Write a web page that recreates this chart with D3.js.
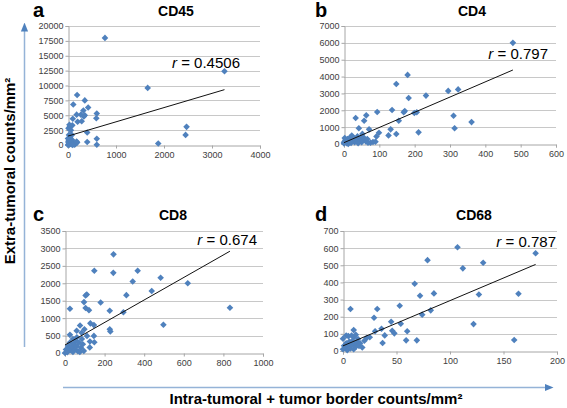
<!DOCTYPE html>
<html><head><meta charset="utf-8">
<script src="https://cdn.jsdelivr.net/npm/d3@7"></script>
<style>body{margin:0;background:#fff}svg{display:block}</style>
</head><body>
<svg id="c" width="567" height="408"></svg>
<script>
// ---------- DATA ----------
const panelLetters = ["a","b","c","d"];
const panelTitles = ["CD45","CD4","CD8","CD68"];
const rLabels = ["0.4506","0.797","0.674","0.787"];

const cd45X = [770,1660,1880,3260,2450,2470,190,110,350,420,320,350,330,270,180,600,590,100,200,285,40,90,10,400,400,600,600,190,80,20,0,
  0,10,20,30,50,60,80,100,120,150,5,40,70,15,130,160,180,90,25,60,30];
const cd45Y = [18000,9600,250,12400,1700,3050,8400,6800,7500,6300,5800,5000,4800,5100,5100,5300,4500,4400,3900,4000,3100,3300,2800,2100,500,1050,50,400,1700,1700,1100,
  0,100,300,50,600,200,900,100,400,150,500,1300,350,800,50,300,600,0,1000,2500,3400];

const cd4X = [478,180,148,295,323,232,183,136,172,169,199,206,155,94,33,63,57,42,71,132,310,313,361,211,99,148,126,92,75,82,89,45,31,
  0,2,5,8,10,15,18,22,25,28,30,35,38,45,48,52,55,58,62,66,50,12,20,40,0,3,68];
const cd4Y = [6000,4100,3560,3150,3240,2870,2730,2020,1960,1880,1840,1880,1380,1900,1540,1700,1380,930,870,870,1680,930,1300,690,670,590,510,450,80,120,140,320,280,
  100,350,250,50,300,150,400,500,200,350,100,250,450,200,300,600,400,250,150,300,100,0,60,50,30,180,80];

const cd8X = [245,148,244,367,342,483,438,310,104,110,96,180,25,104,121,226,295,497,76,128,146,59,25,98,84,111,146,226,229,126,148,125,833,620,
  0,5,10,15,20,25,30,35,40,45,50,55,60,65,70,80,85,90,75,12,40,60,95];
const cd8Y = [2830,2360,2300,2360,2050,2160,1780,1660,1650,1680,1460,1450,1270,1290,1230,1210,1170,810,790,850,800,640,520,680,580,490,490,680,620,330,310,160,1300,2000,
  0,100,50,200,120,300,80,180,400,250,100,350,200,50,300,150,400,250,30,20,30,450,60];

const cd68X = [180,107,131,79,112,67,72,85,127,164,53,74,82,7,32,29,45,46,48,54,36,30,39,60,59,69,37,22,10,0,5,10,122,160,
  0,1,2,3,4,5,6,7,8,9,10,11,12,13,14,15,16,18,3,8,12,20,25];
const cd68Y = [570,605,515,530,482,392,322,336,330,334,264,212,237,245,245,194,171,118,103,159,130,115,91,115,62,62,47,76,122,72,87,80,157,64,
  10,30,20,45,5,25,55,15,35,60,10,40,25,50,70,30,45,20,90,90,95,60,80];

// trend line end points [x0, y0, x1, y1]
const trendCD45 = [0,1500,3260,9300];
const trendCD4 = [0,80,478,4390];
const trendCD8 = [0,230,833,2920];
const trendCD68 = [0,30,180,505];

// axis ticks
const xTicksCD45 = [0,1000,2000,3000,4000];
const yTicksCD45 = [0,2500,5000,7500,10000,12500,15000,17500,20000];
const xTicksCD4 = [0,100,200,300,400,500,600];
const yTicksCD4 = [0,1000,2000,3000,4000,5000,6000,7000];
const xTicksCD8 = [0,200,400,600,800,1000];
const yTicksCD8 = [0,500,1000,1500,2000,2500,3000,3500];
const xTicksCD68 = [0,50,100,150,200];
const yTicksCD68 = [0,100,200,300,400,500,600,700];

const yAxisTitle = "Extra-tumoral counts/mm²";
const xAxisTitle = "Intra-tumoral + tumor border counts/mm²";

// ---------- LAYOUT ----------
const svg = d3.select("#c");
const BLUE = "#4F81BD";
const FONT = "Liberation Sans, Arial, sans-serif";
const panels = [
  {xs:cd45X, ys:cd45Y, tr:trendCD45, xt:xTicksCD45, yt:yTicksCD45, box:[68,260,26,145], lx:33, ly:17, tx:176, ty:16, rx:240, ry:68},
  {xs:cd4X, ys:cd4Y, tr:trendCD4, xt:xTicksCD4, yt:yTicksCD4, box:[344,556,26,144], lx:315, ly:17, tx:472, ty:16, rx:548, ry:59},
  {xs:cd8X, ys:cd8Y, tr:trendCD8, xt:xTicksCD8, yt:yTicksCD8, box:[65,263,231,353], lx:33, ly:221, tx:173, ty:220, rx:257, ry:245},
  {xs:cd68X, ys:cd68Y, tr:trendCD68, xt:xTicksCD68, yt:yTicksCD68, box:[343,557,231,351], lx:315, ly:221, tx:474, ty:220, rx:556, ry:247}
];

panels.forEach((p,i)=>{
  const [x0,x1,y0,y1] = p.box;
  const x = d3.scaleLinear().domain([p.xt[0], p.xt[p.xt.length-1]]).range([x0,x1]);
  const y = d3.scaleLinear().domain([p.yt[0], p.yt[p.yt.length-1]]).range([y1,y0]);
  const g = svg.append("g");
  g.append("g").selectAll("line").data(p.yt.slice(1)).join("line")
    .attr("x1",x0).attr("x2",x1).attr("y1",d=>Math.round(y(d))+0.5).attr("y2",d=>Math.round(y(d))+0.5)
    .attr("stroke","#c8c8c8").attr("stroke-width",1);
  const ya = g.append("g").attr("transform",`translate(${x0+0.5},0)`)
    .call(d3.axisLeft(y).tickValues(p.yt).tickSize(3).tickFormat(d3.format("d")));
  const xa = g.append("g").attr("transform",`translate(0,${Math.round(y1)+0.5})`)
    .call(d3.axisBottom(x).tickValues(p.xt).tickSize(3).tickFormat(d3.format("d")));
  [ya,xa].forEach(a=>{
    a.select(".domain").attr("stroke","#a6a6a6");
    a.selectAll(".tick line").attr("stroke","#a6a6a6");
    a.selectAll("text").attr("fill","#404040").attr("font-family",FONT).attr("font-size",9);
  });
  ya.selectAll("text").attr("x",-5);
  xa.selectAll("text").attr("y",6);
  const pts = p.xs.map((v,k)=>[v,p.ys[k]]);
  g.append("g").selectAll("path").data(pts).join("path")
    .attr("transform",d=>`translate(${x(d[0])},${y(d[1])})`)
    .attr("d","M0,-3.3L3.3,0L0,3.3L-3.3,0Z").attr("fill",BLUE);
  g.append("line").attr("x1",x(p.tr[0])).attr("y1",y(p.tr[1])).attr("x2",x(p.tr[2])).attr("y2",y(p.tr[3]))
    .attr("stroke","#111").attr("stroke-width",1);
  g.append("text").attr("x",p.lx).attr("y",p.ly).text(panelLetters[i])
    .attr("font-family",FONT).attr("font-weight","bold").attr("font-size",20).attr("fill","#000");
  g.append("text").attr("x",p.tx).attr("y",p.ty).attr("text-anchor","middle").text(panelTitles[i])
    .attr("font-family",FONT).attr("font-weight","bold").attr("font-size",14).attr("fill","#000");
  const rt = g.append("text").attr("x",p.rx).attr("y",p.ry).attr("text-anchor","end")
    .attr("font-family",FONT).attr("font-size",15).attr("fill","#000");
  rt.append("tspan").attr("font-style","italic").text("r");
  rt.append("tspan").text(" = " + rLabels[i]);
});

const defs = svg.append("defs");
defs.append("marker").attr("id","arr").attr("viewBox","0 0 10 10").attr("refX",5).attr("refY",5)
  .attr("markerWidth",6).attr("markerHeight",6).attr("orient","auto")
  .append("path").attr("d","M0,1L10,5L0,9Z").attr("fill","#4F81BD");
svg.append("line").attr("x1",24.5).attr("y1",347).attr("x2",24.5).attr("y2",27)
  .attr("stroke","#95b3d7").attr("stroke-width",1.5).attr("marker-end","url(#arr)");
svg.append("line").attr("x1",63).attr("y1",387.5).attr("x2",549).attr("y2",387.5)
  .attr("stroke","#95b3d7").attr("stroke-width",1.5).attr("marker-end","url(#arr)");

svg.append("text").attr("transform","translate(15,171) rotate(-90)").attr("text-anchor","middle")
  .attr("font-family",FONT).attr("font-weight","bold").attr("font-size",15)
  .attr("fill","#000").text(yAxisTitle);
svg.append("text").attr("x",316).attr("y",404).attr("text-anchor","middle")
  .attr("font-family",FONT).attr("font-weight","bold").attr("font-size",15)
  .attr("fill","#000").text(xAxisTitle);
</script>
</body></html>
